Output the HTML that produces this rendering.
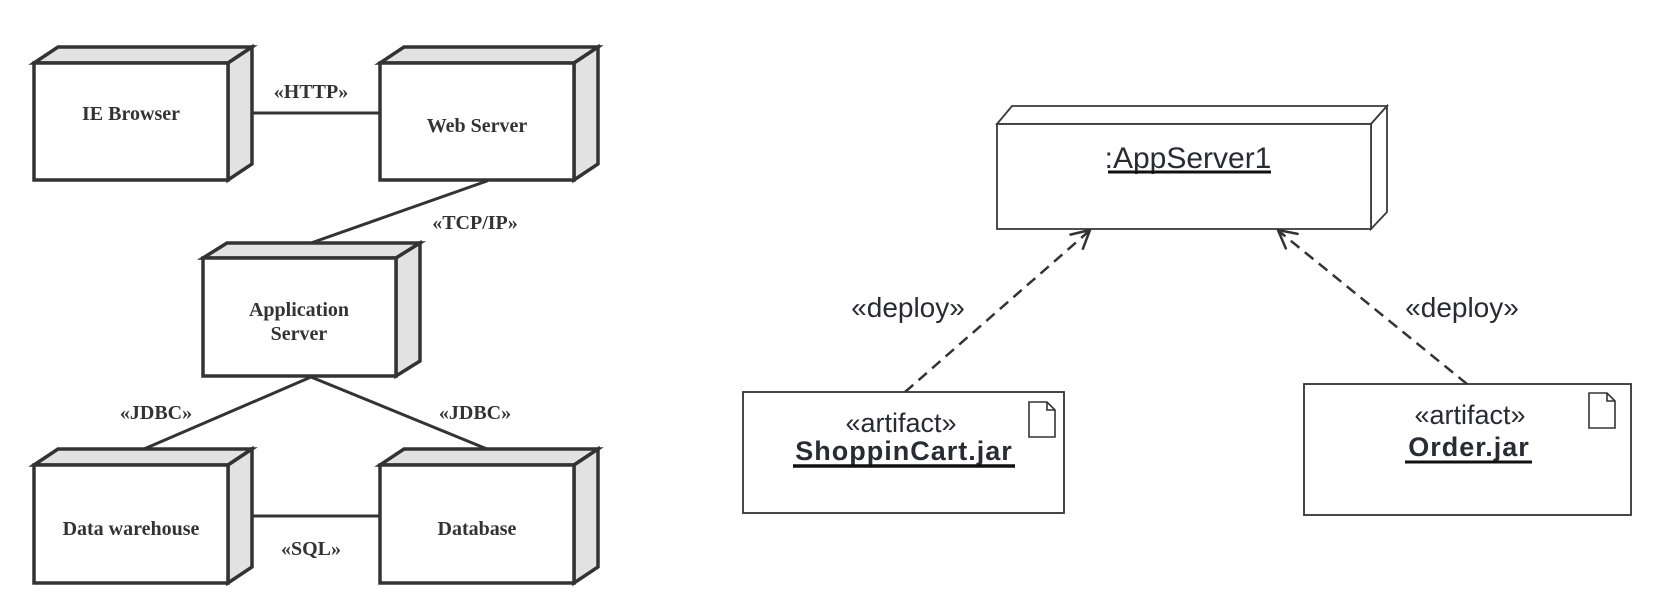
<!DOCTYPE html>
<html>
<head>
<meta charset="utf-8">
<style>
  html, body { margin: 0; padding: 0; background: #ffffff; }
  body { width: 1659px; height: 607px; overflow: hidden; }
  svg { display: block; }
  .nodeL { font-family: "Liberation Serif", serif; font-weight: bold; font-size: 20px; fill: #333; }
  .lab { font-family: "Liberation Serif", serif; font-weight: bold; font-size: 20px; fill: #333; }
  .sans { font-family: "Liberation Sans", sans-serif; fill: #2a2a33; }
</style>
</head>
<body>
<svg width="1659" height="607" viewBox="0 0 1659 607" xmlns="http://www.w3.org/2000/svg">
  <rect x="0" y="0" width="1659" height="607" fill="#ffffff"/>

  <!-- ===== LEFT DIAGRAM ===== -->
  <g stroke="#333" stroke-width="3" fill="none" stroke-linecap="round">
    <!-- HTTP -->
    <line x1="252" y1="113" x2="380" y2="113"/>
    <!-- TCP/IP -->
    <line x1="487" y1="181" x2="311" y2="243"/>
    <!-- JDBC -->
    <line x1="311" y1="377" x2="144" y2="449"/>
    <line x1="311" y1="377" x2="487" y2="449"/>
    <!-- SQL -->
    <line x1="252" y1="516" x2="380" y2="516"/>
  </g>

  <g stroke="#333" stroke-width="3.5" stroke-linejoin="miter">
    <!-- IE Browser -->
    <polygon points="34,63 58,47 252,47 228,63" fill="#e2e2e2"/>
    <polygon points="228,63 252,47 252,164 228,180" fill="#e2e2e2"/>
    <rect x="34" y="63" width="194" height="117" fill="#fff"/>
    <!-- Web Server -->
    <polygon points="380,63 404,47 598,47 574,63" fill="#e2e2e2"/>
    <polygon points="574,63 598,47 598,164 574,180" fill="#e2e2e2"/>
    <rect x="380" y="63" width="194" height="117" fill="#fff"/>
    <!-- Application Server -->
    <polygon points="203,258 227,243 420,243 396,258" fill="#e2e2e2"/>
    <polygon points="396,258 420,243 420,361 396,376" fill="#e2e2e2"/>
    <rect x="203" y="258" width="193" height="118" fill="#fff"/>
    <!-- Data warehouse -->
    <polygon points="34,465 58,449 252,449 228,465" fill="#e2e2e2"/>
    <polygon points="228,465 252,449 252,567 228,583" fill="#e2e2e2"/>
    <rect x="34" y="465" width="194" height="118" fill="#fff"/>
    <!-- Database -->
    <polygon points="380,465 404,449 598,449 574,465" fill="#e2e2e2"/>
    <polygon points="574,465 598,449 598,567 574,583" fill="#e2e2e2"/>
    <rect x="380" y="465" width="194" height="118" fill="#fff"/>
  </g>

  <g class="nodeL" text-anchor="middle">
    <text x="131" y="120">IE Browser</text>
    <text x="477" y="132">Web Server</text>
    <text x="299" y="316">Application</text>
    <text x="299" y="340">Server</text>
    <text x="131" y="535">Data warehouse</text>
    <text x="477" y="535">Database</text>
  </g>

  <g class="lab" text-anchor="middle">
    <text x="311" y="98">«HTTP»</text>
    <text x="475" y="229">«TCP/IP»</text>
    <text x="156" y="419">«JDBC»</text>
    <text x="475" y="419">«JDBC»</text>
    <text x="311" y="555">«SQL»</text>
  </g>

  <!-- ===== RIGHT DIAGRAM ===== -->
  <!-- AppServer1 node -->
  <g stroke="#3a3a3a" stroke-width="1.8" fill="#fff" stroke-linejoin="miter">
    <polygon points="997,124 1012,106 1387,106 1371,124"/>
    <polygon points="1371,124 1387,106 1387,212 1371,229"/>
    <rect x="997" y="124" width="374" height="105"/>
  </g>
  <text class="sans" x="1188" y="168" text-anchor="middle" font-size="30">:AppServer1</text>
  <line x1="1108" y1="172" x2="1271" y2="172" stroke="#111" stroke-width="3"/>

  <!-- Dashed deploy connectors -->
  <g stroke="#333" stroke-width="2.5" fill="none" stroke-dasharray="11 7">
    <line x1="905" y1="392" x2="1088" y2="232"/>
    <line x1="1467" y1="384" x2="1280" y2="232"/>
  </g>
  <g stroke="#333" stroke-width="2.5" fill="none" stroke-linecap="round" stroke-linejoin="round">
    <polyline points="1070.5,234.6 1090,230 1082.9,248.7"/>
    <polyline points="1285.8,248.4 1278,230 1297.6,233.9"/>
  </g>

  <g class="sans" font-size="28" text-anchor="middle">
    <text x="908" y="317">«deploy»</text>
    <text x="1462" y="317">«deploy»</text>
  </g>

  <!-- ShoppinCart.jar artifact -->
  <rect x="743" y="392" width="321" height="121" fill="#fff" stroke="#333" stroke-width="1.8"/>
  <text class="sans" x="901" y="432" text-anchor="middle" font-size="27">«artifact»</text>
  <text class="sans" x="904" y="460" text-anchor="middle" font-size="27" font-weight="bold" letter-spacing="1" fill="#1a1a1a">ShoppinCart.jar</text>
  <line x1="793" y1="466" x2="1015" y2="466" stroke="#111" stroke-width="3.5"/>
  <g stroke="#333" stroke-width="1.6" fill="#fff" stroke-linejoin="miter">
    <path d="M1029,402 L1047,402 L1055,410 L1055,437 L1029,437 Z"/>
    <path d="M1047,402 L1047,410 L1055,410" fill="none"/>
  </g>

  <!-- Order.jar artifact -->
  <rect x="1304" y="384" width="327" height="131" fill="#fff" stroke="#333" stroke-width="1.8"/>
  <text class="sans" x="1470" y="424" text-anchor="middle" font-size="27">«artifact»</text>
  <text class="sans" x="1469" y="456" text-anchor="middle" font-size="27" font-weight="bold" letter-spacing="1" fill="#1a1a1a">Order.jar</text>
  <line x1="1405" y1="462" x2="1532" y2="462" stroke="#111" stroke-width="3"/>
  <g stroke="#333" stroke-width="1.6" fill="#fff" stroke-linejoin="miter">
    <path d="M1589,393 L1607,393 L1615,401 L1615,428 L1589,428 Z"/>
    <path d="M1607,393 L1607,401 L1615,401" fill="none"/>
  </g>
</svg>
</body>
</html>
